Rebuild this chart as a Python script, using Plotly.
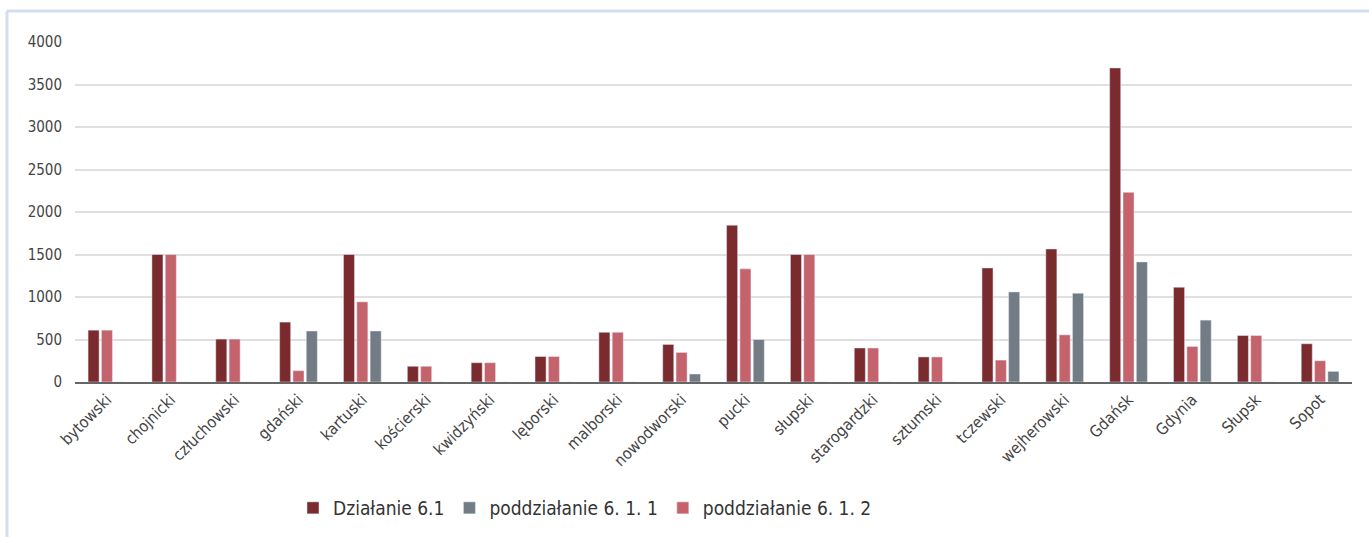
import plotly.graph_objects as go

# Powiaty / miasta
categories = ["bytowski", "chojnicki", "człuchowski", "gdański", "kartuski", "kościerski",
              "kwidzyński", "lęborski", "malborski", "nowodworski", "pucki", "słupski",
              "starogardzki", "sztumski", "tczewski", "wejherowski", "Gdańsk", "Gdynia",
              "Słupsk", "Sopot"]

dzialanie_61 = [610, 1500, 505, 705, 1500, 185, 227, 300, 585, 442, 1845, 1500,
                400, 295, 1342, 1565, 3695, 1115, 547, 450]
poddz_612 = [610, 1500, 505, 133, 943, 185, 227, 300, 585, 348, 1331, 1500,
             400, 295, 258, 555, 2231, 418, 547, 250]
poddz_611 = [0, 0, 0, 600, 600, 0, 0, 0, 0, 94, 500, 0,
             0, 0, 1060, 1045, 1413, 728, 0, 125]

y_ticks = [0, 500, 1000, 1500, 2000, 2500, 3000, 3500, 4000]

FONT = "Liberation Sans Narrow, DejaVu Sans Condensed, Arial Narrow, sans-serif"

fig = go.Figure()
fig.add_trace(go.Bar(x=categories, y=dzialanie_61, name="Działanie 6.1",
                     marker_color="#7b2a2d", legendrank=1))
fig.add_trace(go.Bar(x=categories, y=poddz_612, name="poddziałanie 6. 1. 2",
                     marker_color="#c5636d", legendrank=3))
fig.add_trace(go.Bar(x=categories, y=poddz_611, name="poddziałanie 6. 1. 1",
                     marker_color="#737b84", legendrank=2))

L, R, T, B = 75, 17, 42, 155
W, H = 1369, 537
pw, ph = W - L - R, H - T - B

def px_x(x):
    return (x - L) / pw

def px_y(y):
    return (H - B - y) / ph

border = dict(color="#d5ddf1", width=3)
fig.add_shape(type="line", xref="paper", yref="paper",
              x0=px_x(7), x1=px_x(W + 5), y0=px_y(11), y1=px_y(11), line=border)
fig.add_shape(type="line", xref="paper", yref="paper",
              x0=px_x(7), x1=px_x(7), y0=px_y(11), y1=px_y(H + 5), line=border)

fig.update_layout(
    width=W, height=H,
    margin=dict(l=L, r=R, t=T, b=B, autoexpand=False),
    paper_bgcolor="white", plot_bgcolor="white",
    barmode="group", bargap=0.374, bargroupgap=0.17,
    font=dict(family=FONT, color="#444444", size=14),
    showlegend=True,
    legend=dict(orientation="h", x=px_x(585), xanchor="center",
                y=px_y(508), yanchor="middle",
                font=dict(size=19, color="#333333"),
                itemwidth=30, traceorder="normal"),
    xaxis=dict(tickangle=-45, tickfont=dict(size=16, color="#444444"),
               showline=True, linecolor="#666666", linewidth=2,
               showgrid=False, ticks=""),
    yaxis=dict(range=[0, 4000], tickvals=y_ticks, ticks="",
               showgrid=True, gridcolor="#e0e0e0", gridwidth=1.5,
               zeroline=False, showline=False,
               tickfont=dict(size=15, color="#444444"), ticklabelstandoff=12),
)

fig.write_html("out.html")
